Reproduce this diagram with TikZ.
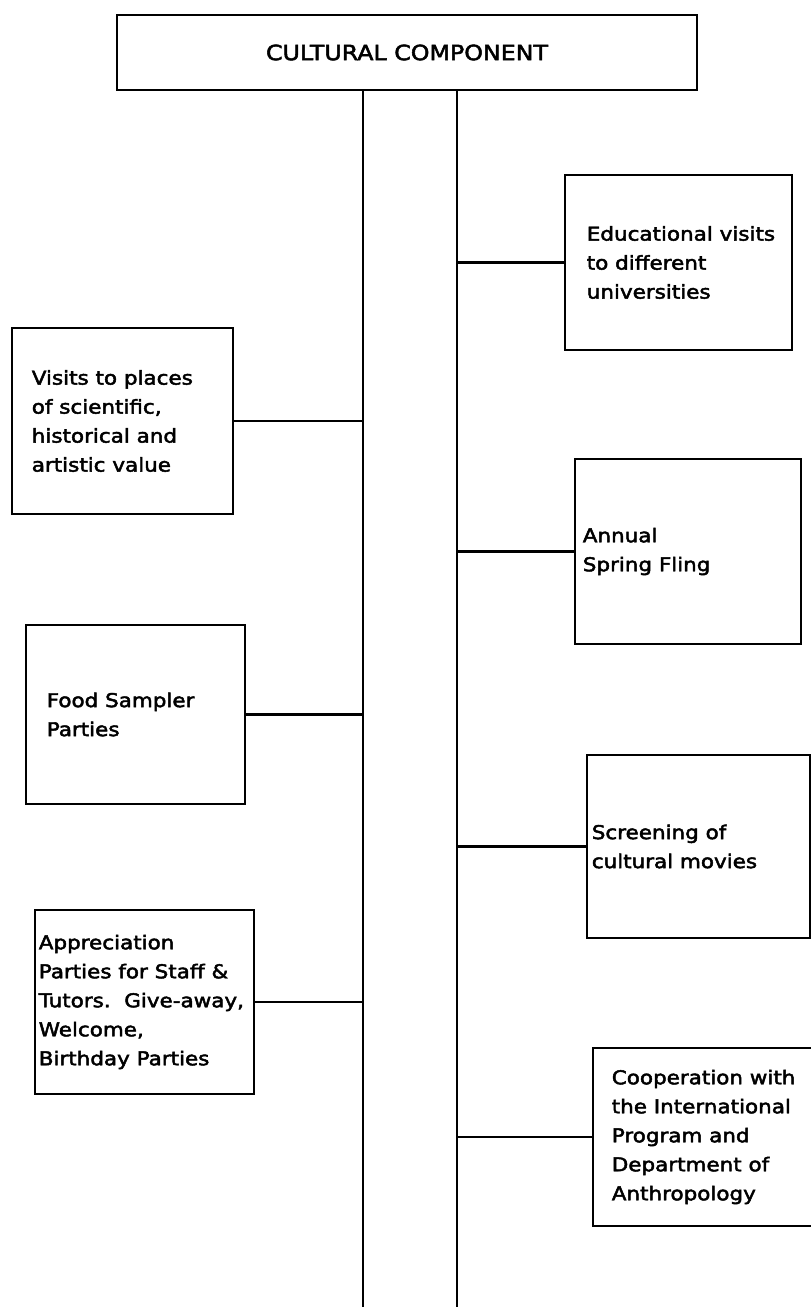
\documentclass[tikz,border=0pt]{standalone}
\usepackage{fontspec}
\setmainfont[FakeStretch=1.13,FakeBold=2.5]{DejaVu Sans}
\usetikzlibrary{positioning}
\tikzset{
  head/.style={draw=black,line width=2.8pt,minimum width=580pt,minimum height=75pt,
    font=\fontsize{21}{24}\selectfont},
  act/.style={draw=black,line width=2.8pt,inner sep=0pt},
  txt/.style={inner sep=0pt,align=left,font=\fontsize{19}{29}\selectfont},
  trunk/.style={draw=black,line width=2.6pt},
  branch/.style={draw=black,line width=2.6pt},
}

\begin{document}
\begin{tikzpicture}[x=1pt,y=-1pt]
\useasboundingbox (0,0) rectangle (811,1307);
\node[head] (cc) at (407,52.5) {CULTURAL COMPONENT};
\coordinate (l1) at (363,90);
\coordinate (l2) at (363,1307);
\coordinate (r1) at (457,90);
\coordinate (r2) at (457,1307);
\draw[trunk] (l1) -- (l2);
\draw[trunk] (r1) -- (r2);
% left column
\node[act,minimum width=221pt,minimum height=186pt] (visits) at (122.5,421) {};
\node[txt,right=21pt of visits.west] (visits-t) {Visits to places\\of scientific,\\historical and\\artistic value};
\node[act,minimum width=219pt,minimum height=179pt] (food) at (135.5,714.5) {};
\node[txt,right=22pt of food.west] (food-t) {Food Sampler\\Parties};
\node[act,minimum width=219pt,minimum height=184pt] (appr) at (144.5,1002) {};
\node[txt,right=5pt of appr.west] (appr-t) {Appreciation\\Parties for Staff \&\\Tutors.\ \ Give-away,\\Welcome,\\Birthday Parties};
% right column
\node[act,minimum width=227pt,minimum height=175pt] (educ) at (678.5,262.5) {};
\node[txt,right=23pt of educ.west] (educ-t) {Educational visits\\to different\\universities};
\node[act,minimum width=226pt,minimum height=185pt] (fling) at (688,551.5) {};
\node[txt,right=9pt of fling.west] (fling-t) {Annual\\Spring Fling};
\node[act,minimum width=223pt,minimum height=183pt] (movies) at (698.5,846.5) {};
\node[txt,right=6pt of movies.west] (movies-t) {Screening of\\cultural movies};
\node[act,minimum width=220pt,minimum height=178pt] (coop) at (703,1137) {};
\node[txt,right=20pt of coop.west] (coop-t) {Cooperation with\\the International\\Program and\\Department of\\Anthropology};
% branches
\draw[branch] (visits.east) -- (visits.east -| l1);
\draw[branch] (food.east) -- (food.east -| l1);
\draw[branch] (appr.east) -- (appr.east -| l1);
\draw[branch] (educ.west) -- (educ.west -| r1);
\draw[branch] (fling.west) -- (fling.west -| r1);
\draw[branch] (movies.west) -- (movies.west -| r1);
\draw[branch] (coop.west) -- (coop.west -| r1);
\end{tikzpicture}
\end{document}
